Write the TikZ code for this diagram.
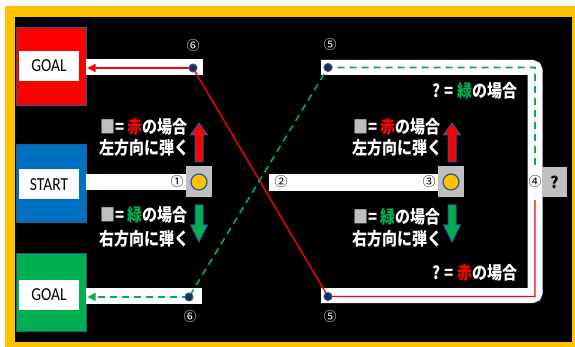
\documentclass[tikz,border=0pt]{standalone}
\usepackage{fontspec}
\usepackage{graphicx}
\newfontfamily\jpfont{Noto Sans CJK JP}
\newfontfamily\carfont{Carlito}
\usetikzlibrary{arrows.meta}
\definecolor{yel}{HTML}{FFC000}
\definecolor{oline}{HTML}{2F5597}
\definecolor{gbox}{HTML}{BFBFBF}
\definecolor{grn}{HTML}{00B050}
\definecolor{blu}{HTML}{0070C0}
\definecolor{navy}{HTML}{1F2D4F}
\definecolor{rd}{HTML}{FF0000}
\newcommand\tall[1]{\scalebox{1}[1.18]{#1}}
\tikzset{
  bigbox/.style={draw=oline, line width=1pt, minimum width=70pt, minimum height=78pt, inner sep=0pt},
  inbox/.style={fill=white, minimum width=60pt, minimum height=30pt, inner sep=0pt, font=\carfont\fontsize{15.5}{15.5}\selectfont},
  bar/.style={fill=white, inner sep=0pt},
  graysq/.style={fill=gbox, minimum width=26pt, minimum height=31pt, inner sep=0pt},
  ball/.style={circle, fill=yel, draw=oline, line width=1.2pt, minimum size=16pt, inner sep=0pt},
  dot/.style={circle, fill=navy, draw=oline, line width=1pt, minimum size=8pt, inner sep=0pt},
  jtxt/.style={text=white, font=\jpfont\bfseries\fontsize{15}{15}\selectfont, inner sep=0pt, anchor=west},
  numw/.style={text=white, font=\jpfont\fontsize{13}{13}\selectfont, inner sep=0pt},
  numb/.style={text=black, font=\jpfont\fontsize{13}{13}\selectfont, inner sep=0pt},
  redline/.style={draw=rd, line width=1.4pt},
  grnline/.style={draw=grn, line width=1.6pt, dash pattern=on 7pt off 5pt},
  tip/.style={-{Triangle[length=8pt,width=8pt]}},
  uparr/.pic={\draw[oline, line width=1pt, fill=rd] (0,0) -- (8.5,12) -- (4,12) -- (4,39) -- (-4,39) -- (-4,12) -- (-8.5,12) -- cycle;},
  dnarr/.pic={\draw[oline, line width=1pt, fill=grn] (0,0) -- (8.5,-17) -- (4,-17) -- (4,-37) -- (-4,-37) -- (-4,-17) -- (-8.5,-17) -- cycle;}
}
\begin{document}
\begin{tikzpicture}[x=1pt,y=-1pt]
\useasboundingbox (0,0) rectangle (575,347);
\fill[white] (0,0) rectangle (575,347);
\fill[yel] (5,6) rectangle (575,347);
\fill[black] (15,17) rectangle (572,342);

% left boxes
\node[bigbox, fill=rd] (redgoal) at (51,67) {};
\node[inbox] (redgoaltxt) at (49,66) {\tall{GOAL}};
\node[bigbox, fill=blu] (start) at (51,184) {};
\node[inbox] (starttxt) at (49,184.5) {\tall{START}};
\node[bigbox, fill=grn] (grngoal) at (51,292) {};
\node[inbox] (grngoaltxt) at (49,294.5) {\tall{GOAL}};

% bars
\node[bar, minimum width=117pt, minimum height=16pt] (topbar) at (144.5,67) {};
\node[bar, minimum width=116pt, minimum height=16pt] (botbar) at (144,296) {};
\node[bar, minimum width=101pt, minimum height=16pt] (startbar) at (136.5,182) {};
\node[bar, minimum width=169pt, minimum height=17pt] (midbar) at (353.5,182.5) {};

% U band
\coordinate (uL1) at (321,67.5);
\coordinate (uTR) at (535,67.5);
\coordinate (uBR) at (535,295.5);
\coordinate (uL2) at (321,295.5);
\draw[white, line width=15pt, rounded corners=3pt] (uL1) -- (uTR) -- (uBR) -- (uL2);

% gray squares
\node[graysq] (g1) at (199,181.5) {};
\node[ball] (ball1) at (199,182) {};
\node[graysq] (g3) at (451,182) {};
\node[ball] (ball3) at (451,182) {};
\node[graysq, minimum width=25pt, minimum height=30pt, font=\jpfont\bfseries\fontsize{16}{16}\selectfont] (gq) at (554.5,182) {?};

% path points
\coordinate (p6t) at (193,68);
\coordinate (p6b) at (189,297);
\coordinate (p5t) at (328,67.5);
\coordinate (p5b) at (328,296.5);
\coordinate (q4n) at (535,165);
\coordinate (q4s) at (535,200);
\coordinate (cTR) at (535,67.5);
\coordinate (cBR) at (535,296.5);

% connectors
\draw[redline] (q4s) -- (cBR) -- (p5b) -- (p6t);
\draw[redline, tip, shorten >=1pt] (p6t) -- (redgoal.east |- p6t);
\draw[grnline] (q4n) -- (cTR) -- (p5t) -- (p6b);
\draw[grnline, tip, shorten >=1pt] (p6b) -- (grngoal.east |- p6b);

% dots
\node[dot] (d6t) at (p6t) {};
\node[dot] (d6b) at (p6b) {};
\node[dot] (d5t) at (p5t) {};
\node[dot] (d5b) at (p5b) {};

% number labels
\node[numw] (n6t) at (193,46) {⑥};
\node[numw] (n6b) at (190,317) {⑥};
\node[numw] (n5t) at (330,45) {⑤};
\node[numw] (n5b) at (330,317) {⑤};
\node[numb] (n1) at (177,182) {①};
\node[numb] (n2) at (281,182) {②};
\node[numb] (n3) at (429,182) {③};
\node[numb] (n4) at (535,182) {④};

% block arrows
\pic (ua1) at (199,123) {uparr};
\pic (da1) at (199,242) {dnarr};
\pic (ua2) at (452,123) {uparr};
\pic (da2) at (452,242) {dnarr};

% texts
\node[jtxt] (t1) at (100,127) {\tall{{\color{gbox}■}= {\color{rd}赤}の場合}};
\node[jtxt] (t2) at (99,148) {\tall{左方向に弾く}};
\node[jtxt] (t3) at (100,215) {\tall{{\color{gbox}■}= {\color{grn}緑}の場合}};
\node[jtxt] (t4) at (99,239) {\tall{右方向に弾く}};
\node[jtxt] (t5) at (353,127) {\tall{{\color{gbox}■}= {\color{rd}赤}の場合}};
\node[jtxt] (t6) at (352,148) {\tall{左方向に弾く}};
\node[jtxt] (t7) at (353,217) {\tall{{\color{gbox}■}= {\color{grn}緑}の場合}};
\node[jtxt] (t8) at (352,239) {\tall{右方向に弾く}};
\node[jtxt] (t9) at (432,90.5) {\tall{? = {\color{grn}緑}の場合}};
\node[jtxt] (t10) at (432,273) {\tall{? = {\color{rd}赤}の場合}};
\end{tikzpicture}
\end{document}
